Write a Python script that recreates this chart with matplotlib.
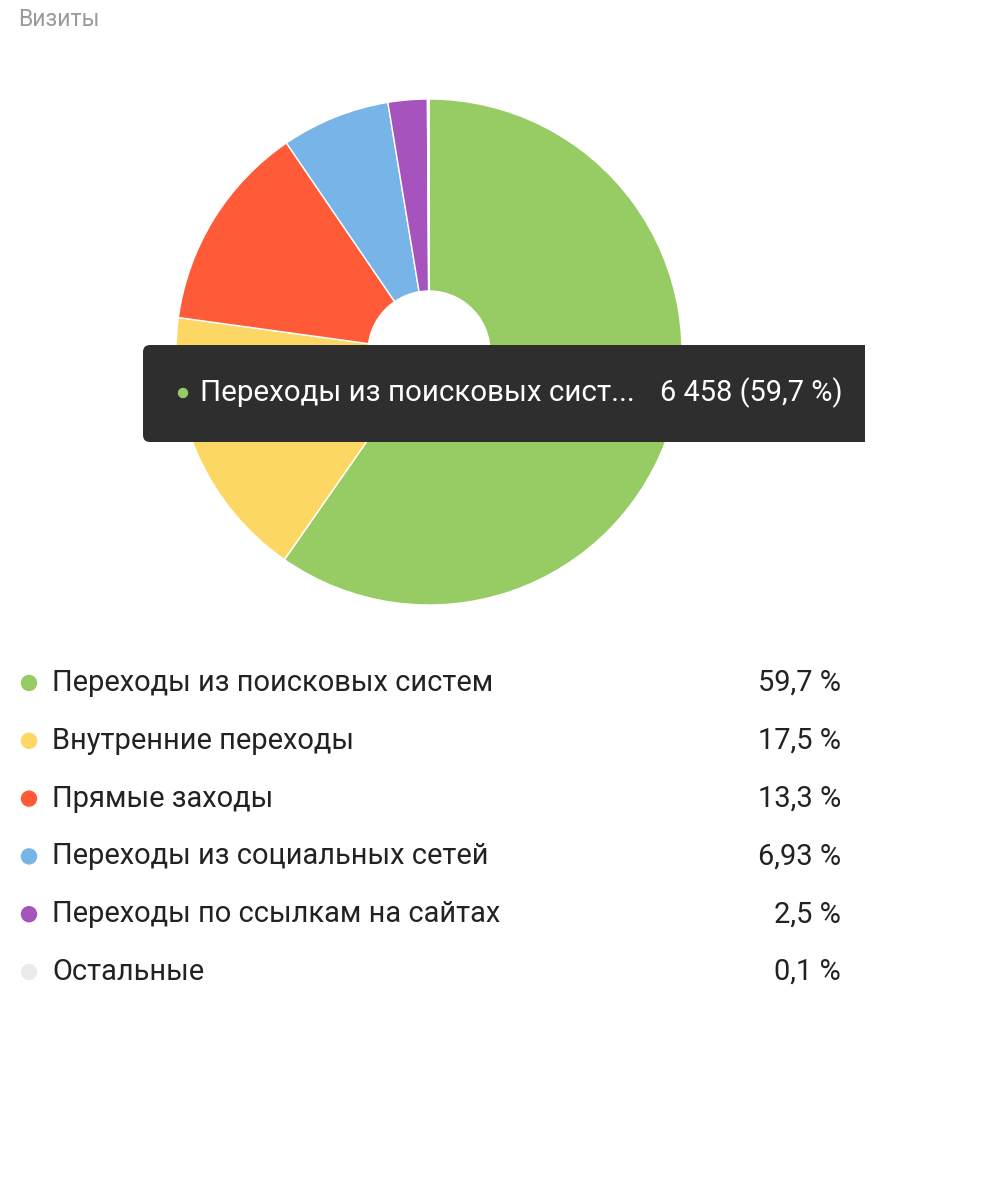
import matplotlib
matplotlib.use("Agg")
import matplotlib.pyplot as plt
from matplotlib.patches import FancyBboxPatch, Circle, Rectangle

# ---- data ----
title = "Визиты"
categories = ["Переходы из поисковых систем", "Внутренние переходы", "Прямые заходы",
              "Переходы из социальных сетей", "Переходы по ссылкам на сайтах", "Остальные"]
shares = [59.7, 17.5, 13.3, 6.93, 2.5, 0.1]
share_labels = ["59,7 %", "17,5 %", "13,3 %", "6,93 %", "2,5 %", "0,1 %"]
colors = ["#97CB63", "#FDD764", "#FF5B39", "#77B5E8", "#A653BE", "#EBEBEB"]
tooltip_label = "Переходы из поисковых сист..."
tooltip_value = "6 458 (59,7 %)"

W, H = 982, 1182
FONT = ["Roboto", "DejaVu Sans"]
plt.rcParams["font.family"] = FONT

fig = plt.figure(figsize=(W / 100, H / 100), dpi=100)
ax = fig.add_axes([0, 0, 1, 1])

def Y(y):
    return H - y

cx, cy, R, r_in = 429, 352, 253, 61
ax.pie(shares, colors=colors, startangle=90, counterclock=False,
       center=(cx, Y(cy)), radius=R,
       wedgeprops=dict(width=R - r_in, edgecolor="white", linewidth=1))

ax.set_xlim(0, W)
ax.set_ylim(0, H)
ax.set_aspect("equal")
ax.axis("off")

def px(s):
    return s * 0.72

# title
ax.text(18, Y(20), title, fontsize=px(23), color="#9a9a9a", ha="left", va="center")

# tooltip
clip = Rectangle((0, 0), 865, H, transform=ax.transData)
box = FancyBboxPatch((143, Y(442)), 760, 97,
                     boxstyle="round,pad=0,rounding_size=7",
                     facecolor="#2E2E2E", edgecolor="none", zorder=5)
ax.add_patch(box)
box.set_clip_path(clip)
ax.add_patch(Circle((183, Y(393)), 4.5, color=colors[0], zorder=6))
ax.text(200, Y(393), tooltip_label, fontsize=px(29.5), color="white",
        ha="left", va="center", zorder=7)
ax.text(843, Y(393), tooltip_value, fontsize=px(29), color="white",
        ha="right", va="center", zorder=7)

# legend
row0, step = 683, 57.8
for i, (cat, lab, col) in enumerate(zip(categories, share_labels, colors)):
    yy = Y(row0 + i * step)
    ax.add_patch(Circle((29, yy), 7.5, color=col))
    ax.text(52, yy, cat, fontsize=px(29), color="#222222", ha="left", va="center")
    ax.text(841, yy, lab, fontsize=px(29), color="#222222", ha="right", va="center")

fig.savefig("out.png", dpi=100, facecolor="white")
